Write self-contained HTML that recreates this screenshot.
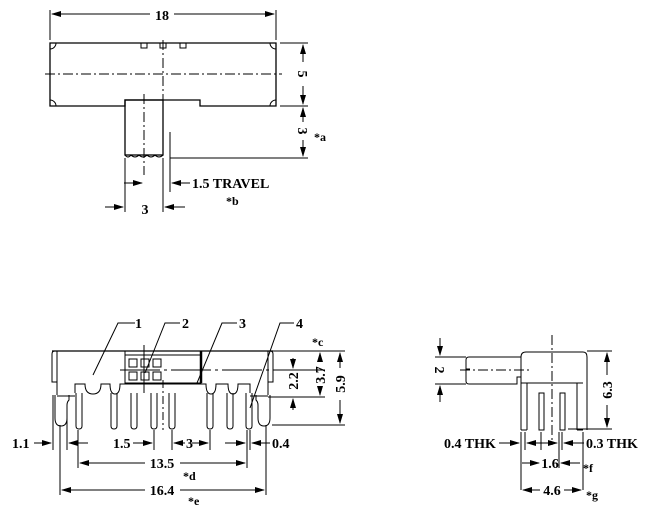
<!DOCTYPE html>
<html><head><style>body{margin:0;background:#fff}svg{display:block}text{font-family:"Liberation Serif",serif;font-weight:bold;fill:#000}</style></head>
<body>
<svg width="649" height="511" viewBox="0 0 649 511" xmlns="http://www.w3.org/2000/svg">
<defs><marker id="a" markerWidth="10" markerHeight="6" refX="9" refY="3" orient="auto" markerUnits="userSpaceOnUse"><path d="M0,0 L10,3 L0,6 z" fill="#000"/></marker></defs>
<g stroke="#000" stroke-width="1" fill="none">
<!-- TOP VIEW -->
<line x1="50" y1="10" x2="50" y2="40"/><line x1="276" y1="10" x2="276" y2="40"/>
<line x1="150" y1="14" x2="52" y2="14" marker-end="url(#a)"/><line x1="174" y1="14" x2="274" y2="14" marker-end="url(#a)"/>
<path d="M50,43 H276 V106 H200 V100 H125 V106 H50 Z" stroke-width="1.3"/>
<path d="M50,49 A6,6 0 0 0 56,43 M276,49 A6,6 0 0 1 270,43 M50,100 A6,6 0 0 1 56,106 M276,100 A6,6 0 0 0 270,106"/>
<path d="M141,43 v5 h6 v-5 M160,43 v5 h6 v-5 M180,43 v5 h6 v-5"/>
<line x1="45" y1="74" x2="282" y2="74" stroke-dasharray="10,3,2,3"/>
<line x1="163" y1="40" x2="163" y2="106" stroke-dasharray="10,3,2,3"/>
<line x1="144" y1="94" x2="144" y2="175" stroke-dasharray="10,3,2,3"/>
<rect x="125" y="100" width="38" height="55" stroke-width="1.3"/>
<path d="M125,155 q3,4 6,0 q4,4 8,0 q4,4 8,0 q4,4 8,0 q4,4 8,0"/>
<line x1="280" y1="43" x2="308" y2="43"/><line x1="280" y1="106" x2="308" y2="106"/><line x1="170" y1="158" x2="308" y2="158"/>
<line x1="303" y1="62" x2="303" y2="45" marker-end="url(#a)"/><line x1="303" y1="86" x2="303" y2="104" marker-end="url(#a)"/>
<line x1="303" y1="122" x2="303" y2="108" marker-end="url(#a)"/><line x1="303" y1="140" x2="303" y2="156" marker-end="url(#a)"/>
<line x1="170" y1="132" x2="170" y2="192"/>
<line x1="125" y1="158" x2="125" y2="212"/><line x1="163" y1="158" x2="163" y2="212"/>
<line x1="124" y1="183" x2="142" y2="183" marker-end="url(#a)"/>
<line x1="190" y1="183" x2="172" y2="183" marker-end="url(#a)"/>
<line x1="105" y1="207" x2="123" y2="207" marker-end="url(#a)"/>
<line x1="185" y1="207" x2="165" y2="207" marker-end="url(#a)"/>
<!-- BOTTOM LEFT VIEW -->
<path d="M52,351 H273" stroke-width="1.3"/>
<path d="M52,382 V354 q0,-3 3,-3 h2 V382 Z"/>
<path d="M273,382 V354 q0,-3 -3,-3 h-2 V382 Z"/>
<path d="M75,393 V384 H85 q0,10 8,10 q8,0 8,-10 H110 q0,10 5,10 q5,0 5,-10 H206 q0,10 5,10 q5,0 5,-10 H228 q0,10 5,10 q5,0 5,-10 H250 V393"/>
<line x1="57" y1="351" x2="57" y2="395"/><line x1="268" y1="351" x2="268" y2="395"/>
<path d="M57,396 H75 M250,396 H268"/>
<path d="M55,395 V418 q0,8 6,8 q6,0 6,-8 V405 q0,-3 2,-5 V395"/>
<path d="M270,395 V418 q0,8 -6,8 q-6,0 -6,-8 V405 q0,-3 -2,-5 V395"/>
<rect x="125" y="351" width="76" height="32"/>
<line x1="125" y1="355" x2="201" y2="355"/>
<line x1="201" y1="351" x2="201" y2="383" stroke-width="2.5"/>
<rect x="129" y="359" width="8" height="8"/><rect x="141" y="359" width="8" height="8"/><rect x="153" y="359" width="8" height="8"/>
<rect x="129" y="372" width="8" height="8"/><rect x="141" y="372" width="8" height="8"/><rect x="153" y="372" width="8" height="8"/>
<line x1="120" y1="370" x2="290" y2="370" stroke-dasharray="40,4,3,4"/>
<line x1="144" y1="345" x2="144" y2="393"/>
<line x1="163" y1="380" x2="163" y2="430" stroke-dasharray="8,3,2,3"/>
<g>
<path d="M76,393 V426 q0,3 3,3 q3,0 3,-3 V393"/><path d="M111,393 V426 q0,3 3,3 q3,0 3,-3 V393"/>
<path d="M131,393 V426 q0,3 3,3 q3,0 3,-3 V393"/><path d="M151,393 V426 q0,3 3,3 q3,0 3,-3 V393"/>
<path d="M169,393 V426 q0,3 3,3 q3,0 3,-3 V393"/><path d="M207,393 V426 q0,3 3,3 q3,0 3,-3 V393"/>
<path d="M227,393 V426 q0,3 3,3 q3,0 3,-3 V393"/><path d="M246,393 V426 q0,3 3,3 q3,0 3,-3 V393"/>
</g>
<!-- leaders -->
<path d="M93,375 L118,323 H135"/><path d="M145,373 L165,323 H180"/><path d="M197,383 L222,323 H237"/><path d="M250,408 L280,323 H294"/>
<!-- dims bottom-left -->
<line x1="273" y1="351" x2="345" y2="351"/><line x1="290" y1="370" x2="325" y2="370"/><line x1="268" y1="397" x2="325" y2="397"/><line x1="272" y1="425" x2="345" y2="425"/>
<line x1="293" y1="358" x2="293" y2="368" marker-end="url(#a)"/><line x1="293" y1="410" x2="293" y2="399" marker-end="url(#a)"/>
<line x1="320" y1="353" x2="320" y2="360"/><line x1="320" y1="362" x2="320" y2="353" marker-end="url(#a)"/><line x1="320" y1="388" x2="320" y2="395" marker-end="url(#a)"/>
<line x1="340" y1="368" x2="340" y2="353" marker-end="url(#a)"/><line x1="340" y1="400" x2="340" y2="423" marker-end="url(#a)"/>
<line x1="53" y1="395" x2="53" y2="450"/><line x1="60" y1="425" x2="60" y2="495"/><line x1="67" y1="415" x2="67" y2="450"/>
<line x1="78" y1="430" x2="78" y2="468"/><line x1="154" y1="430" x2="154" y2="450"/><line x1="172" y1="430" x2="172" y2="450"/><line x1="210" y1="430" x2="210" y2="450"/>
<line x1="247" y1="430" x2="247" y2="468"/><line x1="250" y1="430" x2="250" y2="450"/><line x1="266" y1="425" x2="266" y2="495"/>
<line x1="34" y1="443" x2="51" y2="443" marker-end="url(#a)"/><line x1="88" y1="443" x2="69" y2="443" marker-end="url(#a)"/>
<line x1="133" y1="443" x2="152" y2="443" marker-end="url(#a)"/>
<line x1="185" y1="443" x2="174" y2="443" marker-end="url(#a)"/><line x1="192" y1="443" x2="208" y2="443" marker-end="url(#a)"/>
<line x1="225" y1="443" x2="245" y2="443" marker-end="url(#a)"/><line x1="270" y1="443" x2="252" y2="443" marker-end="url(#a)"/>
<line x1="145" y1="463" x2="80" y2="463" marker-end="url(#a)"/><line x1="180" y1="463" x2="245" y2="463" marker-end="url(#a)"/>
<line x1="145" y1="490" x2="62" y2="490" marker-end="url(#a)"/><line x1="180" y1="490" x2="264" y2="490" marker-end="url(#a)"/>
<!-- RIGHT VIEW -->
<path d="M521,430 V357 q0,-5 5,-5 H583 q4,0 4,5 V430"/>
<path d="M527,430 V383 M577,430 V383"/>
<line x1="521" y1="383" x2="583" y2="383"/>
<path d="M521,357 H469 q-3,0 -3,3 V381 q0,3 3,3 H517 V377 H521"/>
<path d="M466,369 h4"/>
<line x1="460" y1="370" x2="530" y2="370" stroke-dasharray="10,3,2,3"/>
<line x1="552" y1="335" x2="552" y2="445" stroke-dasharray="10,3,2,3"/>
<rect x="539" y="393" width="5" height="37"/><rect x="560" y="393" width="5" height="37"/>
<line x1="521" y1="430" x2="527" y2="430"/><line x1="577" y1="430" x2="583" y2="430"/>
<line x1="587" y1="351" x2="612" y2="351"/><line x1="568" y1="429" x2="612" y2="429"/>
<line x1="607" y1="375" x2="607" y2="353" marker-end="url(#a)"/><line x1="607" y1="405" x2="607" y2="427" marker-end="url(#a)"/>
<line x1="435" y1="357" x2="466" y2="357"/><line x1="435" y1="384" x2="466" y2="384"/>
<line x1="440" y1="338" x2="440" y2="355" marker-end="url(#a)"/><line x1="440" y1="402" x2="440" y2="386" marker-end="url(#a)"/>
<line x1="521" y1="432" x2="521" y2="490"/><line x1="525" y1="432" x2="525" y2="450"/>
<line x1="541" y1="432" x2="541" y2="450"/><line x1="559" y1="432" x2="559" y2="468"/><line x1="562" y1="432" x2="562" y2="450"/>
<line x1="583" y1="432" x2="583" y2="490"/>
<line x1="499" y1="443" x2="519" y2="443" marker-end="url(#a)"/><line x1="535" y1="443" x2="543" y2="443"/>
<line x1="540" y1="443" x2="527" y2="443" marker-end="url(#a)"/><line x1="543" y1="443" x2="557" y2="443" marker-end="url(#a)"/>
<line x1="584" y1="443" x2="564" y2="443" marker-end="url(#a)"/>
<line x1="522" y1="463" x2="539" y2="463" marker-end="url(#a)"/><line x1="580" y1="463" x2="561" y2="463" marker-end="url(#a)"/>
<line x1="540" y1="490" x2="523" y2="490" marker-end="url(#a)"/><line x1="564" y1="490" x2="581" y2="490" marker-end="url(#a)"/>
</g>
<g font-size="14">
<text x="162" y="20" text-anchor="middle">18</text>
<text transform="translate(303,74) rotate(90)" text-anchor="middle" dy="5">5</text>
<text transform="translate(303,131) rotate(90)" text-anchor="middle" dy="5">3</text>
<text x="314" y="141" font-size="12">*a</text>
<text x="192" y="188">1.5 TRAVEL</text>
<text x="226" y="205" font-size="12">*b</text>
<text x="145" y="214" text-anchor="middle">3</text>
<text x="135" y="328">1</text><text x="182" y="328">2</text><text x="239" y="328">3</text><text x="296" y="328">4</text>
<text x="312" y="346" font-size="12">*c</text>
<text transform="translate(293,381) rotate(-90)" text-anchor="middle" dy="5">2.2</text>
<text transform="translate(320,375) rotate(-90)" text-anchor="middle" dy="5">3.7</text>
<text transform="translate(340,384) rotate(-90)" text-anchor="middle" dy="5">5.9</text>
<text x="12" y="448">1.1</text>
<text x="113" y="448">1.5</text>
<text x="186" y="448">3</text>
<text x="272" y="448">0.4</text>
<text x="162" y="468" text-anchor="middle">13.5</text>
<text x="183" y="480" font-size="12">*d</text>
<text x="162" y="495" text-anchor="middle">16.4</text>
<text x="188" y="505" font-size="12">*e</text>
<text transform="translate(440,370) rotate(90)" text-anchor="middle" dy="5">2</text>
<text transform="translate(607,390) rotate(-90)" text-anchor="middle" dy="5">6.3</text>
<text x="444" y="448">0.4  THK</text>
<text x="586" y="448">0.3  THK</text>
<text x="550" y="468" text-anchor="middle">1.6</text>
<text x="583" y="472" font-size="12">*f</text>
<text x="552" y="495" text-anchor="middle">4.6</text>
<text x="586" y="499" font-size="12">*g</text>
</g>
</svg>
</body></html>
